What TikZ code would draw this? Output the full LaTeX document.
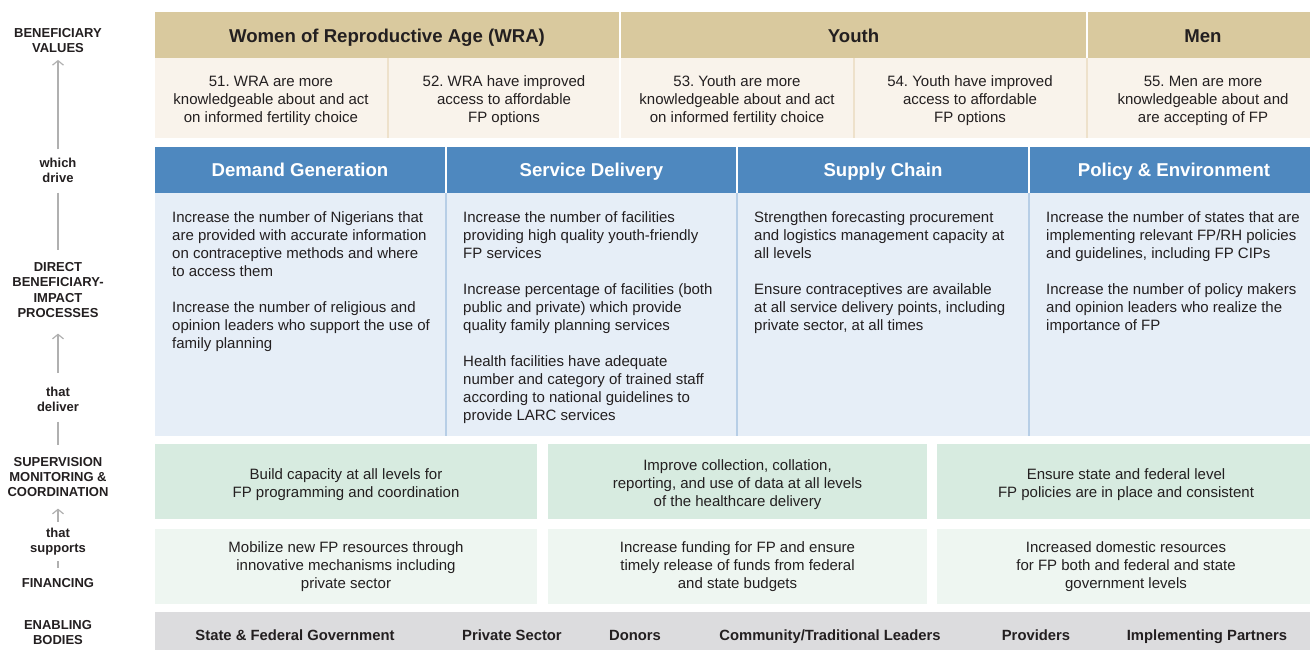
\documentclass[tikz,border=0pt]{standalone}
\usepackage{fontspec}
\setmainfont{Liberation Sans}
\frenchspacing
\usetikzlibrary{arrows.meta, positioning}
\definecolor{tanhead}{HTML}{D9C99E}
\definecolor{tancell}{HTML}{F9F3EB}
\definecolor{tanrule}{HTML}{EEE1CB}
\definecolor{bluehead}{HTML}{4E88BF}
\definecolor{bluecell}{HTML}{E6EEF7}
\definecolor{bluerule}{HTML}{B7CEE6}
\definecolor{greenmid}{HTML}{D7EBE0}
\definecolor{greenpale}{HTML}{EEF6F1}
\definecolor{graybar}{HTML}{DCDCDE}
\definecolor{ink}{HTML}{231F20}
\definecolor{flowgray}{HTML}{B0B0B0}

\begin{document}
\begin{tikzpicture}[x=1pt, y=-1pt,
  every node/.style={text=ink},
  sidelabel/.style={font=\fontsize{13}{15.2}\selectfont\bfseries, align=center, inner sep=0pt},
  flow/.style={flowgray, line width=1.5pt},
  uparrow/.style={flow, -{Straight Barb[length=4.5pt, width=11pt, line width=1.2pt]}},
  headtext/.style={font=\fontsize{18.6}{22}\selectfont\bfseries, anchor=base, inner sep=0pt},
  celltext/.style={font=\fontsize{15}{18}\selectfont, align=center, inner sep=0pt},
  bodytext/.style={font=\fontsize{15}{18}\selectfont, align=left, inner sep=0pt, anchor=north west},
  bodyname/.style={font=\fontsize{14.8}{18}\selectfont\bfseries, anchor=base, inner sep=0pt},
]
  \useasboundingbox (0,0) rectangle (1310,650);

  % Side labels and the flow between them
  \node[sidelabel] (values) at (58,40.5) {BENEFICIARY\\VALUES};
  \node[sidelabel] (drive) at (58,170) {which\\drive};
  \node[sidelabel] (processes) at (58,290) {DIRECT\\BENEFICIARY-\\IMPACT\\PROCESSES};
  \node[sidelabel] (deliver) at (58,399) {that\\deliver};
  \node[sidelabel] (supervision) at (58,477) {SUPERVISION\\MONITORING \&\\COORDINATION};
  \node[sidelabel] (supports) at (58,541.5) {that\\supports};
  \node[sidelabel] (financing) at (58,583) {FINANCING};
  \node[sidelabel] (enabling) at (58,632.5) {ENABLING\\BODIES};

  \draw[uparrow, shorten <=8pt, shorten >=7pt] (drive.north) -- (values.south);
  \draw[flow, shorten <=10pt, shorten >=12.7pt] (drive.south) -- (processes.north);
  \draw[uparrow, shorten <=13.3pt, shorten >=16pt] (deliver.north) -- (processes.south);
  \draw[flow, shorten <=10pt, shorten >=12pt] (deliver.south) -- (supervision.north);
  \draw[uparrow, shorten <=5.7pt, shorten >=11.6pt] (supports.north) -- (supervision.south);
  \draw[flow, shorten <=6pt, shorten >=10pt] (supports.south) -- (financing.north);

  % Beneficiary groups
  \fill[tanhead] (155,12) rectangle (619,58);
  \fill[tanhead] (621,12) rectangle (1086,58);
  \fill[tanhead] (1088,12) rectangle (1318,58);
  \node[headtext] (wra) at (387,42.5) {Women of Reproductive Age (WRA)};
  \node[headtext] (youth) at (853.5,42.5) {Youth};
  \node[headtext] (men) at (1203,42.5) {Men};

  % Outcomes
  \fill[tancell] (155,58) rectangle (1318,138);
  \foreach \x in {388,854,1087}
    \draw[tanrule, line width=1.5pt] (\x,58) -- (\x,138);
  \draw[white, line width=2pt] (620,58) -- (620,138);
  \foreach \x/\n/\txt in {
    271/o51/{51. WRA are more\\knowledgeable about and act\\on informed fertility choice},
    504/o52/{52. WRA have improved\\access to affordable\\FP options},
    737/o53/{53. Youth are more\\knowledgeable about and act\\on informed fertility choice},
    970/o54/{54. Youth have improved\\access to affordable\\FP options},
    1203/o55/{55. Men are more\\knowledgeable about and\\are accepting of FP}} {
    \node[celltext] (\n) at (\x,101) {\txt};
  }

  % Impact processes
  \fill[bluehead] (155,147) rectangle (445,193);
  \fill[bluehead] (447,147) rectangle (736,193);
  \fill[bluehead] (738,147) rectangle (1028,193);
  \fill[bluehead] (1030,147) rectangle (1318,193);
  \fill[bluecell] (155,193) rectangle (1318,436);
  \foreach \x in {446,737,1029}
    \draw[bluerule, line width=1.5pt] (\x,193) -- (\x,436);
  \node[headtext, text=white] (demand) at (300,177) {Demand Generation};
  \node[headtext, text=white] (service) at (591.5,177) {Service Delivery};
  \node[headtext, text=white] (supply) at (883,177) {Supply Chain};
  \node[headtext, text=white] (policy) at (1174,177) {Policy \& Environment};

  \node[bodytext] (demandtxt) at (172,211.2) {Increase the number of Nigerians that\\are provided with accurate information\\on contraceptive methods and where\\to access them\\[18pt]Increase the number of religious and\\opinion leaders who support the use of\\family planning};
  \node[bodytext] (servicetxt) at (463,211.2) {Increase the number of facilities\\providing high quality youth-friendly\\FP services\\[18pt]Increase percentage of facilities (both\\public and private) which provide\\quality family planning services\\[18pt]Health facilities have adequate\\number and category of trained staff\\according to national guidelines to\\provide LARC services};
  \node[bodytext] (supplytxt) at (754,211.2) {Strengthen forecasting procurement\\and logistics management capacity at\\all levels\\[18pt]Ensure contraceptives are available\\at all service delivery points, including\\private sector, at all times};
  \node[bodytext] (policytxt) at (1046,211.2) {Increase the number of states that are\\implementing relevant FP/RH policies\\and guidelines, including FP CIPs\\[18pt]Increase the number of policy makers\\and opinion leaders who realize the\\importance of FP};

  % Supervision, monitoring & coordination
  \fill[greenmid] (155,444) rectangle (537,519);
  \fill[greenmid] (548,444) rectangle (927,519);
  \fill[greenmid] (937,444) rectangle (1318,519);
  \node[celltext] (capacity) at (346,485) {Build capacity at all levels for\\FP programming and coordination};
  \node[celltext] (data) at (737.5,485) {Improve collection, collation,\\reporting, and use of data at all levels\\of the healthcare delivery};
  \node[celltext] (levels) at (1126,485) {Ensure state and federal level\\FP policies are in place and consistent};

  % Financing
  \fill[greenpale] (155,529) rectangle (537,604);
  \fill[greenpale] (548,529) rectangle (927,604);
  \fill[greenpale] (937,529) rectangle (1318,604);
  \node[celltext] (mobilize) at (346,567) {Mobilize new FP resources through\\innovative mechanisms including\\private sector};
  \node[celltext] (funding) at (737.5,567) {Increase funding for FP and ensure\\timely release of funds from federal\\and state budgets};
  \node[celltext] (domestic) at (1126,567) {Increased domestic resources\\for FP both and federal and state\\government levels};

  % Enabling bodies
  \fill[graybar] (155,612) rectangle (1318,650);
  \foreach \x/\n/\txt in {295/govt/{State \& Federal Government},
    512/private/{Private Sector}, 635/donors/{Donors},
    830/leaders/{Community/Traditional Leaders}, 1036/providers/{Providers},
    1207/partners/{Implementing Partners}} {
    \node[bodyname] (\n) at (\x,640) {\txt};
  }
\end{tikzpicture}
\end{document}
